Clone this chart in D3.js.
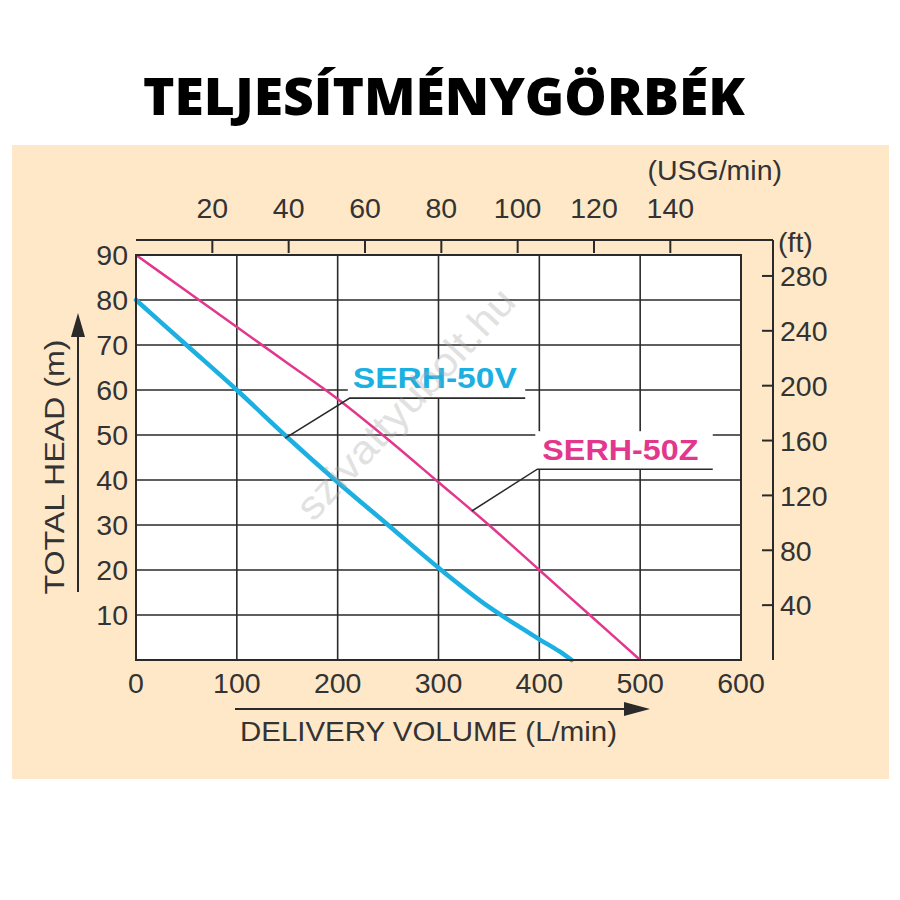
<!DOCTYPE html>
<html><head><meta charset="utf-8">
<script src="https://cdn.jsdelivr.net/npm/d3@7"></script>
<style>
html,body{margin:0;padding:0;background:#fff;}
svg{display:block;}
text{font-family:"Liberation Sans",Arial,sans-serif;}
</style></head>
<body>
<svg id="c" width="900" height="900"></svg>
<script>
// ---------- data ----------
const flowTicks = [0,100,200,300,400,500,600];
const headTicks = [10,20,30,40,50,60,70,80,90];
const usgTicks = [20,40,60,80,100,120,140];
const ftTicks = [40,80,120,160,200,240,280];

const flowZ = [0,50,100,150,200,250,300,350,400,450,500];
const headZ = [90,82,74,66,58,49,39.5,30,20,10,0];

const flowV = [0,50,100,150,200,250,300,350,380,400,420,432];
const headV = [80,70,60,49.5,39.5,30,20.5,11.8,7.4,4.6,1.9,0];

const seriesNames = ["SERH-50V","SERH-50Z"];
const titleText = "TELJESÍTMÉNYGÖRBÉK";

// ---------- layout ----------
const svg = d3.select("#c");
const x = d3.scaleLinear().domain([0,600]).range([136,741]);
const y = d3.scaleLinear().domain([0,90]).range([660,255]);
const L_PER_USG = 3.785, FT_PER_M = 3.2808;
const xU = d3.scaleLinear().domain([0,600/L_PER_USG]).range([136,741]);
const yF = d3.scaleLinear().domain([0,90*FT_PER_M]).range([660,255]);
const topY = y(90) - 15;
const rightX = x(600) + 32;
const ink = "#2a2a2a";
const textCol = "#333";
const cyan = "#1cb0e2", magenta = "#e2378d";

// panel
svg.append("rect").attr("x",12).attr("y",145).attr("width",877).attr("height",634).attr("fill","#fee8c8");

// title
svg.append("text").attr("x",444).attr("y",115).attr("text-anchor","middle")
  .style("font-family","'Open Sans','Noto Sans',sans-serif").style("font-weight","800")
  .style("font-size","52px").attr("fill","#000").attr("textLength",602).attr("lengthAdjust","spacingAndGlyphs")
  .text(titleText);

// plot area
svg.append("rect").attr("x",x(0)).attr("y",y(90)).attr("width",x(600)-x(0)).attr("height",y(0)-y(90)).attr("fill","#fff");

const grid = svg.append("g").attr("stroke",ink).attr("stroke-width",1.6);
grid.selectAll("line.v").data(flowTicks.slice(1,-1)).join("line")
  .attr("x1",d=>x(d)).attr("x2",d=>x(d)).attr("y1",y(90)).attr("y2",y(0));
grid.selectAll("line.h").data(headTicks.slice(0,-1)).join("line").attr("class","h")
  .attr("x1",x(0)).attr("x2",x(600)).attr("y1",d=>y(d)).attr("y2",d=>y(d));

// curves
const line = d3.line().x(d=>x(d[0])).y(d=>y(d[1])).curve(d3.curveMonotoneX);
svg.append("path").datum(d3.zip(flowZ,headZ)).attr("d",line).attr("fill","none")
  .attr("stroke",magenta).attr("stroke-width",2.5);
svg.append("path").datum(d3.zip(flowV,headV)).attr("d",line).attr("fill","none")
  .attr("stroke",cyan).attr("stroke-width",4.5).attr("stroke-linecap","round");

// labels with white boxes and leaders
const leaderLine = d3.line().x(d=>x(d[0])).y(d=>y(d[1]));
const ann = [
  {name:seriesNames[0], color:cyan, tx:215, ty:60.4, w:164, leader:[[148,49.3],[212,58.2],[386,58.2]]},
  {name:seriesNames[1], color:magenta, tx:403, ty:44.4, w:156, leader:[[333,33.1],[398,42.4],[572,42.4]]}
];
ann.forEach(a=>{
  const g = svg.append("g");
  const bg = g.append("rect").attr("fill","#fff");
  const t = g.append("text").attr("x",x(a.tx)).attr("y",y(a.ty))
    .style("font-family","'Liberation Sans',Arial,sans-serif").style("font-weight","bold").style("font-size","29px")
    .attr("fill",a.color).attr("textLength",a.w).attr("lengthAdjust","spacingAndGlyphs")
    .text(a.name);
  const b = t.node().getBBox();
  const ly = y(a.leader[1][1]);
  bg.attr("x",x(a.leader[1][0])-2).attr("y",b.y-3).attr("width",x(a.leader[2][0])-x(a.leader[1][0])+2).attr("height",ly-(b.y-3));
  g.append("path").attr("d",leaderLine(a.leader))
    .attr("fill","none").attr("stroke",ink).attr("stroke-width",1.6);
});

// watermark
svg.append("text").attr("transform",`translate(${x(267)},${y(57)}) rotate(-47)`)
  .attr("text-anchor","middle").attr("dy","0.35em").style("font-size","40px")
  .attr("fill","#aaa").attr("opacity",0.35).attr("textLength",300).attr("lengthAdjust","spacingAndGlyphs")
  .text("szivattyubolt.hu");

// plot border
svg.append("rect").attr("x",x(0)).attr("y",y(90)).attr("width",x(600)-x(0)).attr("height",y(0)-y(90))
  .attr("fill","none").attr("stroke",ink).attr("stroke-width",2);

// left axis labels
const fs = "28.5px";
svg.append("g").selectAll("text").data(headTicks).join("text")
  .attr("x",x(0)-8).attr("y",d=>y(d)).attr("dy","0.36em").attr("text-anchor","end")
  .style("font-size",fs).attr("fill",textCol).text(d=>d);
// bottom axis labels
svg.append("g").selectAll("text").data(flowTicks).join("text")
  .attr("x",d=>x(d)).attr("y",y(0)+33).attr("text-anchor","middle")
  .style("font-size",fs).attr("fill",textCol).text(d=>d);

// top axis (USG/min)
svg.append("line").attr("x1",x(0)).attr("x2",rightX).attr("y1",topY).attr("y2",topY).attr("stroke",ink).attr("stroke-width",2);
const gt = svg.append("g");
gt.selectAll("line").data(usgTicks).join("line").attr("x1",d=>xU(d)).attr("x2",d=>xU(d))
  .attr("y1",topY).attr("y2",topY+13).attr("stroke",ink).attr("stroke-width",2);
gt.selectAll("text").data(usgTicks).join("text").attr("x",d=>xU(d)).attr("y",topY-22)
  .attr("text-anchor","middle").style("font-size",fs).attr("fill",textCol).text(d=>d);
svg.append("text").attr("x",rightX+9).attr("y",topY-60).attr("text-anchor","end")
  .style("font-size",fs).attr("fill",textCol).text("(USG/min)");

// right axis (ft)
svg.append("line").attr("x1",rightX).attr("x2",rightX).attr("y1",topY).attr("y2",y(0)).attr("stroke",ink).attr("stroke-width",2);
const gr = svg.append("g");
gr.selectAll("line").data(ftTicks).join("line").attr("x1",rightX-11).attr("x2",rightX)
  .attr("y1",d=>yF(d)).attr("y2",d=>yF(d)).attr("stroke",ink).attr("stroke-width",2);
gr.selectAll("text").data(ftTicks).join("text").attr("x",rightX+7).attr("y",d=>yF(d)).attr("dy","0.36em")
  .style("font-size",fs).attr("fill",textCol).text(d=>d);
svg.append("text").attr("x",rightX+5).attr("y",topY+12)
  .style("font-size",fs).attr("fill",textCol).text("(ft)");

// axis titles with arrows
svg.append("line").attr("x1",78).attr("x2",78).attr("y1",592).attr("y2",320)
  .attr("stroke",ink).attr("stroke-width",2);
svg.append("path").attr("d","M78,313 L71,337 L85,337 Z").attr("fill",ink);
svg.append("line").attr("x1",235).attr("x2",640).attr("y1",709).attr("y2",709)
  .attr("stroke",ink).attr("stroke-width",2);
svg.append("path").attr("d","M650,709 L624,702 L624,716 Z").attr("fill",ink);

svg.append("text").attr("transform",`translate(64,467) rotate(-90)`).attr("text-anchor","middle")
  .style("font-size","28px").attr("fill",textCol).attr("textLength",255).attr("lengthAdjust","spacingAndGlyphs")
  .text("TOTAL  HEAD (m)");
svg.append("text").attr("x",240).attr("y",741)
  .style("font-size","28px").attr("fill",textCol).attr("textLength",377).attr("lengthAdjust","spacingAndGlyphs")
  .text("DELIVERY VOLUME (L/min)");
</script>
</body></html>
